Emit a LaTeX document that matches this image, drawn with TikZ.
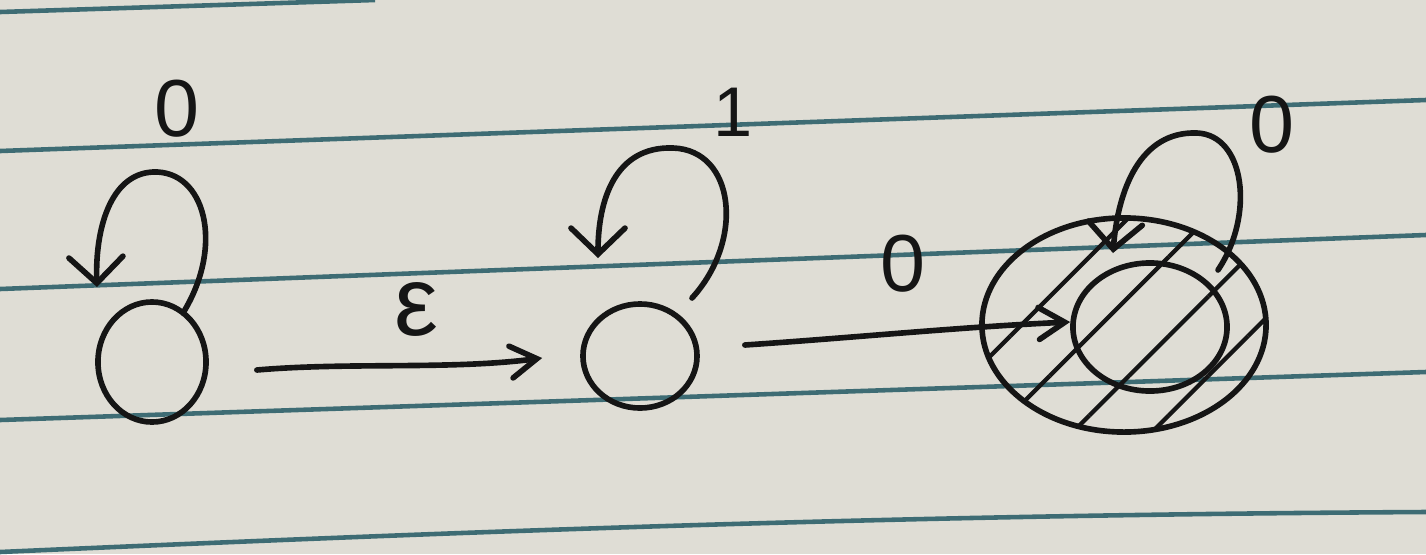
\documentclass[tikz,border=0pt]{standalone}
\usepackage{fontspec}
\setmainfont{Liberation Sans}
\usetikzlibrary{arrows.meta,patterns.meta,shapes.geometric,calc}
\definecolor{paper}{HTML}{DFDDD5}
\definecolor{rulecol}{HTML}{3E6C74}
\definecolor{ink}{HTML}{151515}
\begin{document}
\begin{tikzpicture}[x=0.01cm,y=-0.01cm,
  pen/.style={draw=ink,line width=1.6pt,line cap=round,line join=round},
  state/.style={pen,ellipse,inner sep=0pt},
  barb/.style={-{Straight Barb[length=2.6mm,width=5.4mm,line cap=round]}},
  smallbarb/.style={-{Straight Barb[length=2.6mm,width=3.2mm,line cap=round]}},
  lbl/.style={text=ink,font=\fontsize{23}{27}\selectfont,inner sep=0pt},
  ruled/.style={draw=rulecol,line width=1.3pt}]
% paper
\fill[paper] (0,0) rectangle (1426,554);
\useasboundingbox (0,0) rectangle (1426,554);
\draw[ruled] (0,12) -- (375,0);
\draw[ruled] (0,151) -- (1426,100);
\draw[ruled] (0,289) -- (1426,235);
\draw[ruled] (0,420) -- (1426,372);
\draw[ruled] (0,552) .. controls (500,530) and (900,515) .. (1426,512);
% states
\node[state,minimum width=1.08cm,minimum height=1.2cm] (q0) at (152,362) {};
\node[state,minimum width=1.14cm,minimum height=1.04cm] (q1) at (640,356) {};
\node[state,minimum width=2.84cm,minimum height=2.14cm,
      pattern={Lines[angle=45,distance=5.6mm,line width=1.2pt]},pattern color=ink] (q2) at (1124,325) {};
\node[state,minimum width=1.54cm,minimum height=1.28cm] (q2i) at (1150,327) {};
% self loops
\coordinate (l0s) at (183,313);
\coordinate (l0t) at (153,172);
\coordinate (l0e) at (97,287);
\draw[pen,barb] (l0s) .. controls (225,245) and (205,170) .. (l0t)
                      .. controls (110,174) and (95,230) .. (l0e);
\coordinate (l1s) at (692,298);
\coordinate (l1t) at (673,148);
\coordinate (l1e) at (598,258);
\draw[pen,barb] (l1s) .. controls (745,240) and (735,150) .. (l1t)
                      .. controls (615,146) and (598,200) .. (l1e);
\coordinate (l2s) at (1218,270);
\coordinate (l2t) at (1197,133);
\coordinate (l2e) at (1113,253);
\draw[pen,barb] (l2s) .. controls (1255,215) and (1245,135) .. (l2t)
                      .. controls (1140,131) and (1118,190) .. (l2e);
% transitions
\draw[pen,smallbarb] ($(q0.east)+(48,8)$) .. controls (350,362) and (450,370) .. ($(q1.west)+(-38,2)$);
\draw[pen,smallbarb] ($(q1.east)+(45,-11)$) .. controls (850,338) and (960,327) .. ($(q2i.west)+(0,-5)$);
% labels
\node[lbl] (t0) at (177,109) {0};
\node[lbl,font=\fontsize{20}{24}\selectfont] (t1) at (733,112) {1};
\node[lbl] (t2) at (1272,125) {0};
\node[lbl,font=\fontsize{28}{32}\selectfont] (te) at (416,309) {ε};
\node[lbl] (t3) at (903,264) {0};
\end{tikzpicture}
\end{document}
